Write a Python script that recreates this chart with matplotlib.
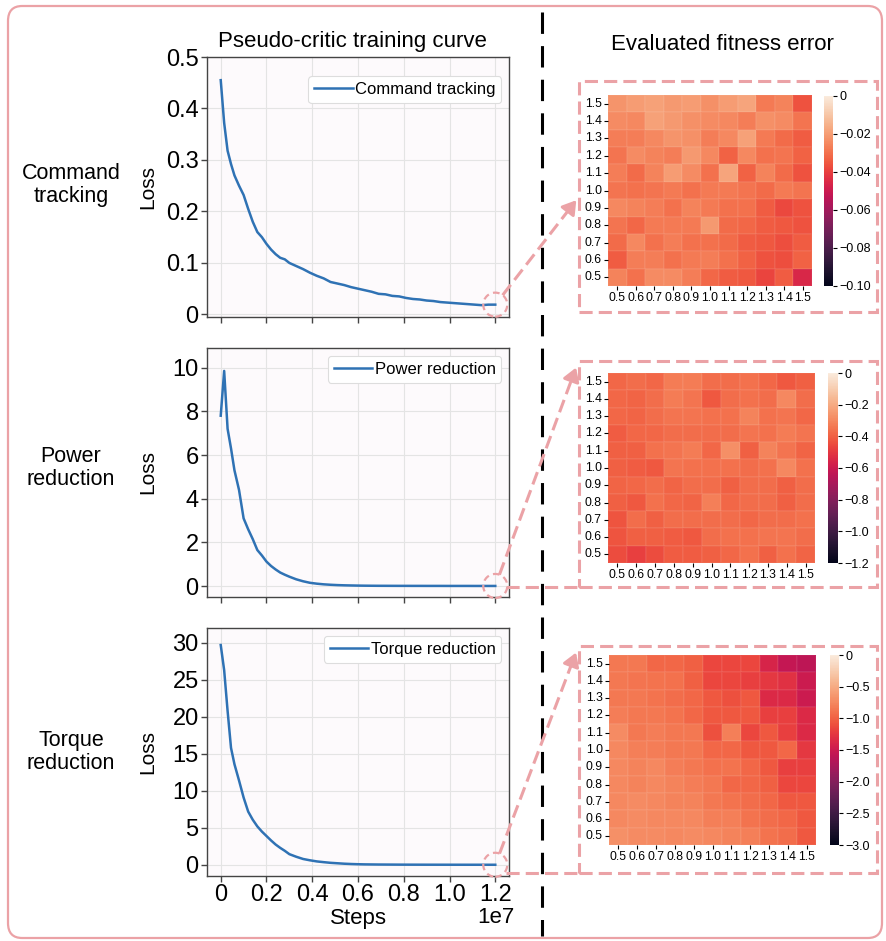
import numpy as np
import matplotlib
matplotlib.use('Agg')
import matplotlib.pyplot as plt
import seaborn as sns
from matplotlib.patches import FancyBboxPatch, Rectangle, Ellipse, FancyArrowPatch
from matplotlib.lines import Line2D

plt.rcParams['font.family'] = ['Liberation Sans', 'DejaVu Sans']

# ---------------- data ----------------
steps_m = [0, 0.15, 0.3, 0.45, 0.6, 0.8, 1.0, 1.2, 1.4, 1.6, 1.8, 2.0, 2.2, 2.4, 2.6, 2.8, 3.0,
           3.3, 3.6, 3.9, 4.2, 4.5, 4.8, 5.1, 5.4, 5.7, 6.0, 6.3, 6.6, 6.9, 7.2, 7.5, 7.8,
           8.1, 8.4, 8.7, 9.0, 9.3, 9.6, 9.9, 10.2, 10.5, 10.8, 11.1, 11.4, 11.7, 12.0]
steps = np.array(steps_m) * 1e6

loss_command = [0.455, 0.372, 0.318, 0.292, 0.270, 0.250, 0.232, 0.205, 0.180, 0.160, 0.150,
                0.137, 0.126, 0.117, 0.110, 0.107, 0.100,
                0.094, 0.088, 0.081, 0.075, 0.070, 0.063, 0.060, 0.057, 0.053, 0.050,
                0.047, 0.044, 0.040, 0.039, 0.036, 0.035, 0.032, 0.030, 0.029, 0.027,
                0.026, 0.024, 0.023, 0.022, 0.021, 0.020, 0.019, 0.018, 0.019, 0.019]
loss_power = [7.8, 9.85, 7.2, 6.3, 5.3, 4.4, 3.1, 2.6, 2.15, 1.65, 1.40, 1.12, 0.92, 0.76,
              0.62, 0.52, 0.43,
              0.31, 0.22, 0.15, 0.11, 0.08, 0.06, 0.045, 0.035, 0.028, 0.022,
              0.018, 0.015, 0.013, 0.012, 0.011, 0.010, 0.010, 0.009, 0.009, 0.008,
              0.008, 0.008, 0.007, 0.007, 0.007, 0.007, 0.006, 0.006, 0.006, 0.006]
loss_torque = [29.7, 26.3, 20.8, 15.8, 13.6, 11.4, 9.1, 7.2, 6.1, 5.2, 4.5, 3.9, 3.3, 2.75,
               2.3, 1.9, 1.45,
               1.1, 0.8, 0.62, 0.47, 0.37, 0.28, 0.22, 0.16, 0.12, 0.09,
               0.07, 0.06, 0.05, 0.045, 0.04, 0.035, 0.032, 0.03, 0.028, 0.026,
               0.025, 0.024, 0.023, 0.022, 0.021, 0.02, 0.02, 0.019, 0.019, 0.018]

grid_x = ['0.5', '0.6', '0.7', '0.8', '0.9', '1.0', '1.1', '1.2', '1.3', '1.4', '1.5']
grid_y = grid_x[::-1]  # rows listed top (1.5) to bottom (0.5)

err_command = [
    [-0.022, -0.020, -0.019, -0.021, -0.020, -0.023, -0.020, -0.018, -0.028, -0.026, -0.036],
    [-0.024, -0.025, -0.019, -0.021, -0.023, -0.024, -0.025, -0.027, -0.023, -0.024, -0.029],
    [-0.027, -0.027, -0.025, -0.022, -0.023, -0.027, -0.025, -0.019, -0.028, -0.031, -0.034],
    [-0.029, -0.024, -0.026, -0.027, -0.021, -0.025, -0.033, -0.025, -0.030, -0.029, -0.033],
    [-0.027, -0.031, -0.026, -0.020, -0.024, -0.030, -0.018, -0.033, -0.026, -0.031, -0.036],
    [-0.029, -0.030, -0.029, -0.028, -0.030, -0.028, -0.028, -0.029, -0.031, -0.028, -0.029],
    [-0.025, -0.026, -0.027, -0.030, -0.026, -0.028, -0.030, -0.030, -0.034, -0.038, -0.036],
    [-0.029, -0.032, -0.028, -0.028, -0.028, -0.021, -0.031, -0.032, -0.034, -0.035, -0.036],
    [-0.031, -0.025, -0.030, -0.027, -0.030, -0.030, -0.031, -0.034, -0.035, -0.037, -0.034],
    [-0.034, -0.027, -0.027, -0.030, -0.028, -0.027, -0.030, -0.033, -0.036, -0.037, -0.033],
    [-0.026, -0.030, -0.024, -0.024, -0.027, -0.032, -0.034, -0.035, -0.039, -0.034, -0.046],
]
err_power = [
    [-0.38, -0.37, -0.38, -0.33, -0.33, -0.37, -0.37, -0.36, -0.38, -0.42, -0.40],
    [-0.38, -0.39, -0.37, -0.33, -0.35, -0.42, -0.37, -0.36, -0.37, -0.30, -0.37],
    [-0.38, -0.39, -0.37, -0.35, -0.35, -0.36, -0.36, -0.31, -0.36, -0.35, -0.38],
    [-0.41, -0.38, -0.38, -0.37, -0.37, -0.37, -0.37, -0.35, -0.36, -0.33, -0.35],
    [-0.40, -0.40, -0.36, -0.35, -0.33, -0.38, -0.28, -0.40, -0.31, -0.35, -0.39],
    [-0.40, -0.41, -0.42, -0.35, -0.36, -0.36, -0.36, -0.37, -0.36, -0.30, -0.36],
    [-0.39, -0.38, -0.37, -0.39, -0.37, -0.37, -0.40, -0.37, -0.37, -0.40, -0.37],
    [-0.40, -0.42, -0.36, -0.38, -0.39, -0.32, -0.38, -0.37, -0.37, -0.40, -0.37],
    [-0.43, -0.37, -0.40, -0.37, -0.37, -0.37, -0.37, -0.38, -0.37, -0.37, -0.36],
    [-0.43, -0.40, -0.40, -0.41, -0.42, -0.37, -0.36, -0.36, -0.35, -0.35, -0.37],
    [-0.45, -0.48, -0.45, -0.41, -0.41, -0.40, -0.38, -0.36, -0.40, -0.36, -0.39],
]
err_torque = [
    [-0.85, -0.85, -0.95, -0.95, -1.00, -1.15, -1.15, -1.15, -1.40, -1.55, -1.60],
    [-0.85, -0.87, -0.88, -0.90, -1.00, -1.15, -1.15, -1.20, -1.25, -1.30, -1.50],
    [-0.85, -0.85, -0.88, -0.92, -0.95, -1.05, -1.10, -1.05, -1.35, -1.35, -1.50],
    [-0.82, -0.85, -0.85, -0.88, -0.95, -1.05, -1.05, -1.05, -1.20, -1.20, -1.35],
    [-0.72, -0.85, -0.82, -0.85, -0.85, -1.10, -0.80, -1.15, -1.05, -1.20, -1.35],
    [-0.75, -0.80, -0.82, -0.85, -0.85, -0.95, -0.95, -1.05, -1.05, -0.95, -1.25],
    [-0.75, -0.78, -0.75, -0.82, -0.85, -0.90, -0.88, -0.95, -1.05, -1.20, -1.20],
    [-0.75, -0.78, -0.75, -0.78, -0.82, -0.85, -0.95, -0.95, -1.00, -1.15, -1.15],
    [-0.75, -0.72, -0.75, -0.78, -0.78, -0.85, -0.88, -0.92, -0.95, -1.05, -1.05],
    [-0.75, -0.72, -0.75, -0.75, -0.75, -0.80, -0.80, -0.88, -0.92, -0.95, -1.05],
    [-0.68, -0.72, -0.72, -0.75, -0.72, -0.75, -0.78, -0.80, -0.88, -0.92, -1.05],
]

row_names = ['Command\ntracking', 'Power\nreduction', 'Torque\nreduction']
legend_names = ['Command tracking', 'Power reduction', 'Torque reduction']
losses = [loss_command, loss_power, loss_torque]
errors = [err_command, err_power, err_torque]
loss_ylims = [(-0.005, 0.5), (-0.5, 10.9), (-1.5, 32)]
loss_yticks = [[0, 0.1, 0.2, 0.3, 0.4, 0.5], [0, 2, 4, 6, 8, 10], [0, 5, 10, 15, 20, 25, 30]]
loss_ylabels = [['0', '0.1', '0.2', '0.3', '0.4', '0.5'], None, None]
err_vmins = [-0.10, -1.2, -3.0]
cb_ticks = [[0, -0.02, -0.04, -0.06, -0.08, -0.10],
            [0, -0.2, -0.4, -0.6, -0.8, -1.0, -1.2],
            [0, -0.5, -1.0, -1.5, -2.0, -2.5, -3.0]]
cb_labels = [['0', '\u22120.02', '\u22120.04', '\u22120.06', '\u22120.08', '\u22120.10'],
             ['0', '\u22120.2', '\u22120.4', '\u22120.6', '\u22120.8', '\u22121.0', '\u22121.2'],
             ['0', '\u22120.5', '\u22121.0', '\u22121.5', '\u22122.0', '\u22122.5', '\u22123.0']]

# ---------------- layout (image pixels) ----------------
W, H = 886, 941
PINK = '#eba2a6'
LINE = '#2f72b4'


def rect(l, t, r, b):
    return [l / W, 1 - b / H, (r - l) / W, (b - t) / H]


def P(x, y):
    return (x / W, 1 - y / H)


line_rects = [(207, 57, 509, 317), (207, 348, 509, 597), (207, 628, 509, 876)]
hm_rects = [(608, 95, 812, 286), (608, 373, 815, 563), (609, 655, 816, 845)]
cb_rects = [(824, 96, 833, 286), (828, 373, 838, 563), (830, 655, 839, 845)]
box_rects = [(579, 81, 877, 312), (579, 361, 877, 587), (579, 646, 877, 873)]
legend_anchor = [(0.975, 0.925), (0.975, 0.968), (0.975, 0.968)]
row_label_y = [185, 468, 752]

fig = plt.figure(figsize=(W / 100, H / 100), dpi=100)

# outer rounded frame
fig.patches.append(FancyBboxPatch(P(8, 938), 874 / W, 932 / H,
                                  boxstyle='round,pad=0,rounding_size=0.016',
                                  transform=fig.transFigure, fill=False,
                                  edgecolor=PINK, linewidth=1.6))

# vertical separator
fig.add_artist(Line2D([542 / W, 542 / W], [1 - 12 / H, 1 - 936 / H], transform=fig.transFigure,
                      color='black', linewidth=2.2, linestyle=(0, (7, 4))))

fig.text(352 / W, 1 - 42 / H, 'Pseudo-critic training curve', ha='center', va='center', fontsize=16)
fig.text(722 / W, 1 - 44 / H, 'Evaluated fitness error', ha='center', va='center', fontsize=16)

for i in range(3):
    ax = fig.add_axes(rect(*line_rects[i]))
    ax.set_facecolor('#fdfafc')
    ax.plot(steps, losses[i], color=LINE, linewidth=1.8, label=legend_names[i])
    ax.set_xlim(-0.6e6, 12.6e6)
    ax.set_ylim(*loss_ylims[i])
    ax.set_xticks([0, 0.2e7, 0.4e7, 0.6e7, 0.8e7, 1.0e7, 1.2e7])
    ax.set_yticks(loss_yticks[i])
    if loss_ylabels[i]:
        ax.set_yticklabels(loss_ylabels[i])
    ax.grid(True, color='#e4e4e4', linewidth=0.8)
    ax.set_axisbelow(True)
    for s in ax.spines.values():
        s.set_color('#444444')
        s.set_linewidth(1.0)
    ax.tick_params(labelsize=17, length=4, width=1, color='#444444', pad=2)
    ax.set_ylabel('Loss', fontsize=15)
    ax.yaxis.set_label_coords(-0.165, 0.5)
    if i < 2:
        ax.tick_params(labelbottom=False)
    else:
        ax.set_xticklabels(['0', '0.2', '0.4', '0.6', '0.8', '1.0', '1.2'])
        ax.set_xlabel('Steps', fontsize=16, labelpad=1)
        ax.text(0.955, -0.125, '1e7', transform=ax.transAxes, ha='center', va='top', fontsize=16)
    leg = ax.legend(loc='upper right', bbox_to_anchor=legend_anchor[i], borderaxespad=0,
                    fontsize=12, handlelength=2.3, handletextpad=0.15,
                    borderpad=0.35, fancybox=True, framealpha=1)
    leg.get_frame().set_edgecolor('#dddddd')
    leg.get_frame().set_linewidth(0.8)

    fig.text(71 / W, 1 - row_label_y[i] / H, row_names[i], ha='center', va='center',
             fontsize=15.5, linespacing=1.15)

    # heatmap
    hax = fig.add_axes(rect(*hm_rects[i]))
    cax = fig.add_axes(rect(*cb_rects[i]))
    sns.heatmap(np.array(errors[i]), ax=hax, cbar_ax=cax, cmap='rocket', vmin=err_vmins[i], vmax=0,
                xticklabels=grid_x, yticklabels=grid_y, linewidths=0.3, linecolor=(1, 1, 1, 0.05))
    hax.tick_params(labelsize=8.8, length=3, width=0.8, pad=1.5)
    plt.setp(hax.get_yticklabels(), rotation=0)
    plt.setp(hax.get_xticklabels(), rotation=0)
    cb = hax.collections[0].colorbar
    cb.set_ticks(cb_ticks[i])
    cb.set_ticklabels(cb_labels[i])
    cax.tick_params(labelsize=9, length=3, width=0.8, pad=1.5)
    cb.outline.set_visible(False)

    # dashed frame around the heatmap
    l, t, r, b = box_rects[i]
    fig.patches.append(Rectangle(P(l, b), (r - l) / W, (b - t) / H, transform=fig.transFigure,
                                 fill=False, edgecolor=PINK, linewidth=2.2, linestyle=(0, (4.3, 2))))

    # dashed circle at the final point and connectors
    xd, yd = ax.transData.transform((steps[-1], losses[i][-1]))
    cx, cy = xd, H - yd
    rad = 12
    fig.patches.append(Ellipse(P(cx, cy), 2 * rad / W, 2 * rad / H, transform=fig.transFigure,
                               fill=False, edgecolor=PINK, linewidth=1.6, linestyle=(0, (3, 2))))

    if i == 0:
        targets = [((578, 198), True)]
    else:
        targets = [((577, t + 4), True), ((l, b), False)]
    for (tx, ty), head in targets:
        if head:
            dx, dy = tx - cx, ty - cy
            n = np.hypot(dx, dy)
            ux, uy = dx / n, dy / n
            sx, sy = cx + rad * ux, cy + rad * uy
            ex, ey = tx - 12 * ux, ty - 12 * uy
            fig.add_artist(Line2D([sx / W, ex / W], [1 - sy / H, 1 - ey / H], transform=fig.transFigure,
                                  color=PINK, linewidth=2.2, linestyle=(0, (4.3, 2))))
            fig.patches.append(FancyArrowPatch(P(ex, ey), P(tx, ty), transform=fig.transFigure,
                                               arrowstyle='-|>,head_length=8,head_width=5',
                                               color=PINK, linewidth=2.2, mutation_scale=1))
        else:
            sx = cx + rad * 0.9
            fig.add_artist(Line2D([sx / W, tx / W], [1 - ty / H, 1 - ty / H], transform=fig.transFigure,
                                  color=PINK, linewidth=2.2, linestyle=(0, (4.3, 2))))

fig.savefig('out.png', dpi=100)
